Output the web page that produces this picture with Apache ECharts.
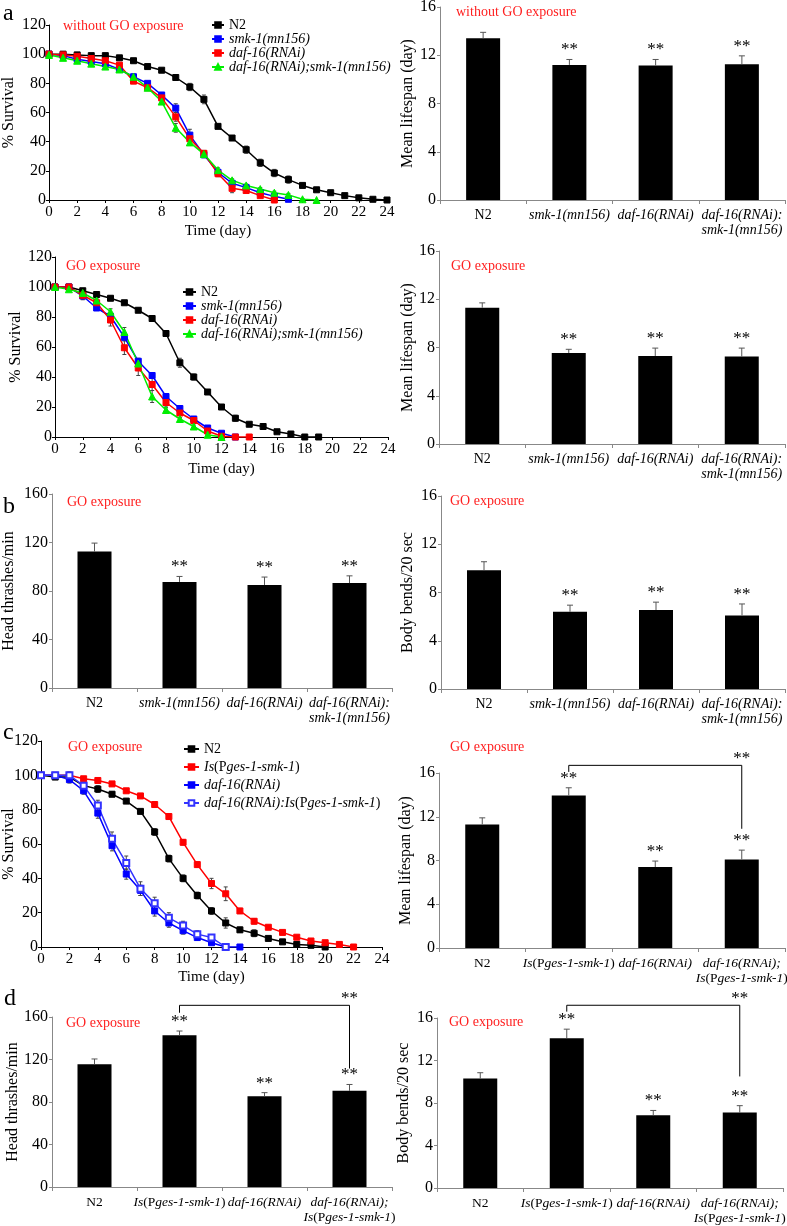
<!DOCTYPE html>
<html><head><meta charset="utf-8">
<script src="https://cdn.jsdelivr.net/npm/echarts@6/dist/echarts.min.js"></script>
<style>html,body{margin:0;padding:0;background:#fff}#c{width:787px;height:1226px}</style>
</head><body><div id="c"></div>
<script>
const FONT = '"Liberation Serif","Times New Roman",serif';

// ---------- Panel a (top): survival without GO exposure (index = day) ----------
const survNamesA = ['N2', 'smk-1(mn156)', 'daf-16(RNAi)', 'daf-16(RNAi);smk-1(mn156)'];
const a1_N2   = [100,100,99.5,99,99,97.5,95.5,91.5,89,84,77.5,69,50.5,42.5,34.5,25.5,18.5,14,10,7,5,3,1.5,0.5,0];
const a1_smk  = [100,99,96.5,95,93.5,89.5,84.5,80,72,63,44.5,31,19,11.5,8.5,5,2.5,0.5];
const a1_daf  = [100,99.5,98.5,97,95.5,92.5,81.5,77,70,57,42,32,18,8,6.5,3,0];
const a1_dbl  = [99.5,97.5,95.5,93.5,91.5,89.5,84.5,77,67.5,49.5,39.5,31.5,20.5,13.5,10,7.5,5,3.5,0.5,0];
const a1e_N2  = [0,1,1,1,1,1,1,1.5,1,2,2.5,3,1.5,1,2.5,2.5,2.5,2.5,1,1,0.5,0.5,0.5,0.5,0];
const a1e_smk = [0,1,1,1,1,1,1,1,1.5,3,4,2,2,1.5,1,1,1,0.5];
const a1e_daf = [0,1,1,1,1,1,1,1,1.5,3,2,2,2,3,1,1,0.5];
const a1e_dbl = [0,1,1,1.5,1,1,2,1,1.5,3,1,2,1.5,1,1,1,1,1,0.5,0];

// ---------- Panel a (middle): survival with GO exposure ----------
const a2_N2   = [100,100,97.5,95,92.5,89.5,84.5,79,69,49.5,40,30,20,12.5,8.5,7,3.5,2,0,0];
const a2_smk  = [100,100,94,86,80.5,66.5,50.5,41,27,19,12,6,2.5,0];
const a2_daf  = [100,100,94.5,89.5,78,59.5,46,35,23,16,11,4,0.5,0,0];
const a2_dbl  = [100,98.5,96,91,83.5,70,49,27,18,12,7,1.5,0];
const a2e_N2  = [0,0.5,1.5,1.5,1.5,1,1.5,1,1,3,2,1,1.5,2,1,1,1,0.5,0.5,0];
const a2e_smk = [0,0.5,2,1.5,1.5,2,2,2,2,1.5,1.5,1,1,0];
const a2e_daf = [0,0.5,3,2,4,4.5,5,4,3,1.5,1.5,1,0.5,0,0];
const a2e_dbl = [0,0.5,1.5,1.5,2,3,2,4,1.5,1,1,0.5,0];

// ---------- Panel c: survival with GO exposure, Is(Pges-1-smk-1) ----------
const survNamesC = ['N2', 'Is(Pges-1-smk-1)', 'daf-16(RNAi)', 'daf-16(RNAi):Is(Pges-1-smk-1)'];
const c1_N2    = [100,99,99,94,92,89,85,79,67,51.5,40,30,21,14,10,8,5,3,1.5,1,0];
const c1_Is    = [100,100,100,98,97,95,91,88,83,76,61,48,37,31,21,15,11.5,8.5,5.7,3.5,2.5,1.5,0];
const c1_daf   = [100,100,97.5,91,78,59,42.5,33,21,14,9.5,5.5,2.5,0,0];
const c1_dafIs = [100,100,100,94,82.5,63,49,34,25.5,17,12.5,7.5,5.5,0];
const c1e_N2    = [0,1,1,1.5,2,1.5,1,1,2,2,2,2,2,3,1.5,2,1,1,1,0.5,0];
const c1e_Is    = [0,1,1,1,1,1,1,1,1.5,1.5,1.5,1.5,3,4,1.5,1.5,1,1,1,1,1,1,0];
const c1e_daf   = [0,1,2,2,3,3,3,3,3,2.5,2,1.5,1,0,0];
const c1e_dafIs = [0,1,2,2,3,4,4,4,3.5,3,2.5,2,1.5,0];

// ---------- Bar panels ----------
const catsA = ['N2', 'smk-1(mn156)', 'daf-16(RNAi)', 'daf-16(RNAi):\nsmk-1(mn156)'];
const catsC = ['N2', 'Is(Pges-1-smk-1)', 'daf-16(RNAi)', 'daf-16(RNAi);\nIs(Pges-1-smk-1)'];
const sig4  = ['', '**', '**', '**'];

const lifeNoGO     = [13.4, 11.2, 11.15, 11.25];
const lifeNoGOErr  = [0.5, 0.45, 0.5, 0.7];
const lifeGO       = [11.3, 7.55, 7.3, 7.25];
const lifeGOErr    = [0.4, 0.3, 0.65, 0.7];
const thrashB      = [112.5, 87.5, 85, 86.5];
const thrashBErr   = [7, 4.5, 6.5, 6];
const bendB        = [9.85, 6.4, 6.55, 6.1];
const bendBErr     = [0.7, 0.55, 0.65, 0.95];
const lifeC        = [11.3, 13.95, 7.4, 8.1];
const lifeCErr     = [0.6, 0.7, 0.55, 0.85];
const thrashD      = [115.5, 142.8, 85.5, 90.5];
const thrashDErr   = [5, 4, 3.3, 6];
const bendD        = [10.3, 14.1, 6.85, 7.1];
const bendDErr     = [0.55, 0.85, 0.45, 0.65];
// brackets: [fromCat, toCat, topValue, leftEndValue, rightEndValue]
const bracketC  = [1, 3, 16.7, 16.1, 10.9];
const bracketD1 = [1, 3, 171, 164, 111.5];
const bracketD2 = [1, 3, 17.2, 16.6, 10.5];

// ---------- helpers ----------
function richStyles(fs) {
  return {
    i: { fontFamily: FONT, fontSize: fs, fontStyle: 'italic', color: '#000' },
    n: { fontFamily: FONT, fontSize: fs, color: '#000' }
  };
}
function richify(s) {
  if (s === 'N2') return '{n|N2}';
  return s.split('\n').map(line =>
    line.split(/(Is\(Pges-1-smk-1\))/).filter(p => p).map(p =>
      p === 'Is(Pges-1-smk-1)' ? '{i|Is}{n|(P}{i|ges-1-smk-1}{n|)}' : '{i|' + p + '}'
    ).join('')
  ).join('\n');
}

const grids = [
  { left: 49,  top: 25,   width: 338, height: 175 }, // a1
  { left: 55,  top: 257,  width: 333, height: 180 }, // a2
  { left: 440, top: 7,    width: 345, height: 193 }, // a3
  { left: 439, top: 251,  width: 346, height: 193 }, // a4
  { left: 52,  top: 494,  width: 340, height: 194 }, // b1
  { left: 441, top: 496,  width: 344, height: 193 }, // b2
  { left: 41,  top: 741,  width: 341, height: 206 }, // c1
  { left: 439, top: 773,  width: 346, height: 175 }, // c2
  { left: 52,  top: 1017, width: 340, height: 170 }, // d1
  { left: 437, top: 1018, width: 346, height: 170 }  // d2
].map(g => Object.assign({ outerBoundsMode: 'none', containLabel: false }, g));

function survX(gi, gap) {
  return { gridIndex: gi, type: 'value', min: 0, max: 24, interval: 2,
    axisLine: { show: true, onZero: false, lineStyle: { color: '#000', width: 1 } },
    axisTick: { show: true, length: 3, lineStyle: { color: '#000' } },
    axisLabel: { fontFamily: FONT, fontSize: 15, color: '#000', margin: 5 },
    splitLine: { show: false },
    name: 'Time (day)', nameLocation: 'middle', nameGap: gap, nameMoveOverlap: false,
    nameTextStyle: { fontFamily: FONT, fontSize: 15, color: '#000' } };
}
function survY(gi, gap) {
  return { gridIndex: gi, type: 'value', min: 0, max: 120, interval: 20,
    axisLine: { show: true, lineStyle: { color: '#000', width: 1 } },
    axisTick: { show: true, length: 3, lineStyle: { color: '#000' } },
    axisLabel: { fontFamily: FONT, fontSize: 16, color: '#000', margin: 3 },
    splitLine: { show: false },
    name: '% Survival', nameLocation: 'middle', nameGap: gap, nameMoveOverlap: false,
    nameTextStyle: { fontFamily: FONT, fontSize: 16, color: '#000' } };
}
function barX(gi, cats, fs) {
  return { gridIndex: gi, type: 'category', data: cats,
    axisLine: { show: true, lineStyle: { color: '#888', width: 1 } },
    axisTick: { show: true, length: 4, alignWithLabel: false, lineStyle: { color: '#888' } },
    axisLabel: { interval: 0, margin: 8, formatter: v => richify(v), rich: richStyles(fs), lineHeight: 15 },
    splitLine: { show: false } };
}
function barY(gi, max, interval, name, gap) {
  return { gridIndex: gi, type: 'value', min: 0, max: max, interval: interval,
    axisLine: { show: true, lineStyle: { color: '#888', width: 1 } },
    axisTick: { show: true, length: 3, lineStyle: { color: '#888' } },
    axisLabel: { fontFamily: FONT, fontSize: 16, color: '#000', margin: 4 },
    splitLine: { show: false },
    name: name, nameLocation: 'middle', nameGap: gap, nameMoveOverlap: false,
    nameTextStyle: { fontFamily: FONT, fontSize: 16, color: '#000' } };
}

const series = [];
function addSurv(ax, prefix, name, vals, errs, color, symbol, size) {
  series.push({
    type: 'line', name: prefix + name, xAxisIndex: ax, yAxisIndex: ax,
    data: vals.map((v, i) => [i, v]),
    symbol: symbol, symbolSize: size, showSymbol: true,
    lineStyle: { color: color, width: 1.5 },
    itemStyle: { color: color, borderColor: color, borderWidth: 1 },
    z: 4, animation: false
  });
  series.push({
    type: 'custom', xAxisIndex: ax, yAxisIndex: ax, z: 3, silent: true, animation: false,
    data: vals.map((v, i) => [i, v, errs[i] || 0]),
    renderItem: (params, api) => {
      const d = api.value(0), v = api.value(1), e = api.value(2);
      if (!e) return;
      const lo = api.coord([d, Math.max(0, v - e)]), hi = api.coord([d, v + e]);
      const st = { stroke: '#444', lineWidth: 1 };
      return { type: 'group', children: [
        { type: 'line', shape: { x1: lo[0], y1: lo[1], x2: hi[0], y2: hi[1] }, style: st },
        { type: 'line', shape: { x1: hi[0] - 2, y1: hi[1], x2: hi[0] + 2, y2: hi[1] }, style: st },
        { type: 'line', shape: { x1: lo[0] - 2, y1: lo[1], x2: lo[0] + 2, y2: lo[1] }, style: st }
      ] };
    }
  });
}
function addBars(ax, means, errs, sigs) {
  series.push({ type: 'bar', xAxisIndex: ax, yAxisIndex: ax, data: means, barWidth: 34,
    itemStyle: { color: '#000' }, silent: true, animation: false, z: 2 });
  series.push({
    type: 'custom', xAxisIndex: ax, yAxisIndex: ax, clip: false, z: 5, silent: true, animation: false,
    data: means.map((m, i) => [i, m, errs[i]]),
    renderItem: (params, api) => {
      const i = api.value(0), m = api.value(1), e = api.value(2);
      const p0 = api.coord([i, m]), p1 = api.coord([i, m + e]);
      const st = { stroke: '#555', lineWidth: 1 };
      const ch = [
        { type: 'line', shape: { x1: p0[0], y1: p0[1], x2: p1[0], y2: p1[1] }, style: st },
        { type: 'line', shape: { x1: p1[0] - 3, y1: p1[1], x2: p1[0] + 3, y2: p1[1] }, style: st }
      ];
      const s = sigs[params.dataIndex];
      if (s) ch.push({ type: 'text', style: { text: s, x: p1[0], y: p1[1] - 1, align: 'center',
        verticalAlign: 'bottom', fontFamily: FONT, fontSize: 17, fill: '#000' } });
      return { type: 'group', children: ch };
    }
  });
}
function addBracket(ax, br) {
  series.push({
    type: 'custom', xAxisIndex: ax, yAxisIndex: ax, clip: false, z: 5, silent: true, animation: false,
    data: [br],
    renderItem: (params, api) => {
      const a = api.value(0), b = api.value(1), top = api.value(2), l = api.value(3), r = api.value(4);
      const pL = api.coord([a, l]), pLT = api.coord([a, top]), pRT = api.coord([b, top]), pR = api.coord([b, r]);
      return { type: 'group', children: [
        { type: 'polyline', shape: { points: [pL, pLT, pRT, pR] }, style: { stroke: '#000', lineWidth: 1, fill: null } },
        { type: 'text', style: { text: '**', x: pRT[0], y: pRT[1] + 2, align: 'center', verticalAlign: 'bottom',
          fontFamily: FONT, fontSize: 17, fill: '#000' } }
      ] };
    }
  });
}

// survival series
addSurv(0, 'a1 ', survNamesA[0], a1_N2,  a1e_N2,  '#000000', 'rect', 6);
addSurv(0, 'a1 ', survNamesA[1], a1_smk, a1e_smk, '#0000ff', 'rect', 6);
addSurv(0, 'a1 ', survNamesA[2], a1_daf, a1e_daf, '#ff0000', 'rect', 6);
addSurv(0, 'a1 ', survNamesA[3], a1_dbl, a1e_dbl, '#00ee00', 'triangle', 7);
addSurv(1, 'a2 ', survNamesA[0], a2_N2,  a2e_N2,  '#000000', 'rect', 6);
addSurv(1, 'a2 ', survNamesA[1], a2_smk, a2e_smk, '#0000ff', 'rect', 6);
addSurv(1, 'a2 ', survNamesA[2], a2_daf, a2e_daf, '#ff0000', 'rect', 6);
addSurv(1, 'a2 ', survNamesA[3], a2_dbl, a2e_dbl, '#00ee00', 'triangle', 7);
addSurv(6, 'c1 ', survNamesC[0], c1_N2,    c1e_N2,    '#000000', 'rect', 6);
addSurv(6, 'c1 ', survNamesC[1], c1_Is,    c1e_Is,    '#ff0000', 'rect', 6);
addSurv(6, 'c1 ', survNamesC[2], c1_daf,   c1e_daf,   '#0000ff', 'rect', 6);
addSurv(6, 'c1 ', survNamesC[3], c1_dafIs, c1e_dafIs, '#3333ff', 'emptyRect', 6);

// bars
addBars(2, lifeNoGO, lifeNoGOErr, sig4);
addBars(3, lifeGO, lifeGOErr, sig4);
addBars(4, thrashB, thrashBErr, sig4);
addBars(5, bendB, bendBErr, sig4);
addBars(7, lifeC, lifeCErr, sig4);
addBars(8, thrashD, thrashDErr, sig4);
addBars(9, bendD, bendDErr, sig4);
addBracket(7, bracketC);
addBracket(8, bracketD1);
addBracket(9, bracketD2);

function legend(prefix, names, left, top, lh, gap, iw) {
  return { orient: 'vertical', left: left, top: top, itemWidth: iw, itemHeight: 7, itemGap: gap,
    padding: 0, selectedMode: false, data: names.map(n => prefix + n),
    formatter: n => richify(n.slice(3)),
    textStyle: { fontFamily: FONT, fontSize: 14, lineHeight: lh, color: '#000',
      rich: { i: Object.assign(richStyles(14).i, { lineHeight: lh }), n: Object.assign(richStyles(14).n, { lineHeight: lh }) } } };
}

function redText(x, y, t) {
  return { type: 'text', left: x, top: y - 8, style: { text: t, fill: '#ff2020', fontFamily: FONT, fontSize: 14 } };
}
function letter(x, y, t) {
  return { type: 'text', left: x, top: y - 13, style: { text: t, fill: '#000', fontFamily: FONT, fontSize: 24 } };
}

const option = {
  backgroundColor: '#fff',
  animation: false,
  grid: grids,
  xAxis: [
    survX(0, 24), survX(1, 25), barX(2, catsA, 14), barX(3, catsA, 14), barX(4, catsA, 14), barX(5, catsA, 14),
    survX(6, 23), barX(7, catsC, 13.5), barX(8, catsC, 13.5), barX(9, catsC, 13.5)
  ],
  yAxis: [
    survY(0, 32), survY(1, 31), barY(2, 16, 4, 'Mean lifespan (day)', 24), barY(3, 16, 4, 'Mean lifespan (day)', 23),
    barY(4, 160, 40, 'Head thrashes/min', 35), barY(5, 16, 4, 'Body bends/20 sec', 25),
    survY(6, 24), barY(7, 16, 4, 'Mean lifespan (day)', 25),
    barY(8, 160, 40, 'Head thrashes/min', 31), barY(9, 16, 4, 'Body bends/20 sec', 25)
  ],
  legend: [
    legend('a1 ', survNamesA, 211, 18, 14, 0, 12),
    legend('a2 ', survNamesA, 182, 285, 13, 0, 13),
    legend('c1 ', survNamesC, 183, 742, 14, 4, 15)
  ],
  graphic: [
    letter(3, 15, 'a'), letter(3, 508, 'b'), letter(3, 734, 'c'), letter(4, 1000, 'd'),
    redText(63, 27, 'without GO exposure'), redText(456, 13, 'without GO exposure'),
    redText(66, 267, 'GO exposure'), redText(451, 267, 'GO exposure'),
    redText(67, 503, 'GO exposure'), redText(450, 502, 'GO exposure'),
    redText(68, 748, 'GO exposure'), redText(450, 748, 'GO exposure'),
    redText(66, 1024, 'GO exposure'), redText(449, 1023, 'GO exposure')
  ],
  series: series
};

const chart = echarts.init(document.getElementById('c'), null, { renderer: 'canvas' });
chart.setOption(option);
</script></body></html>
